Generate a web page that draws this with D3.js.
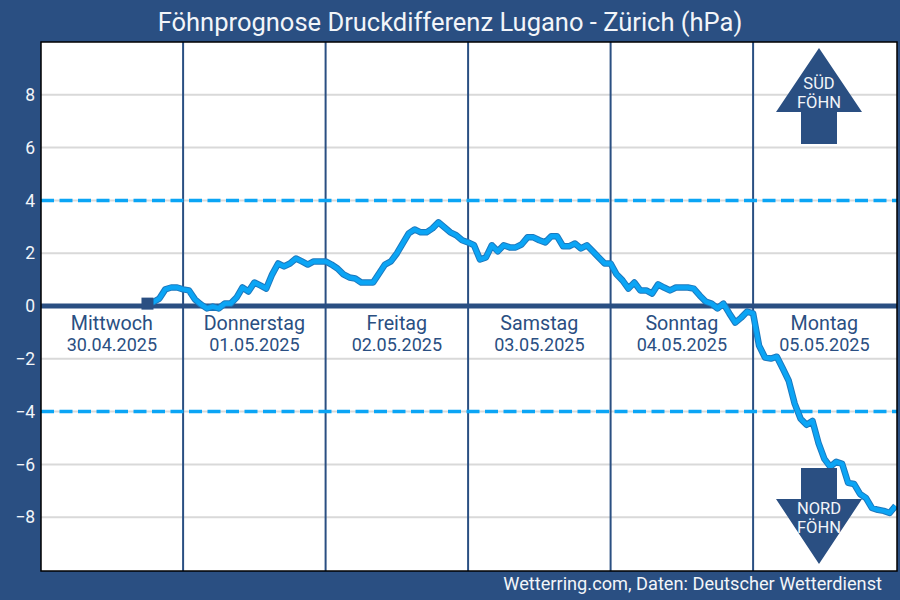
<!DOCTYPE html>
<html>
<head>
<meta charset="utf-8">
<script src="https://cdn.jsdelivr.net/npm/d3@7"></script>
<style>
  html, body { margin: 0; padding: 0; background: #2a4f82; }
  svg { display: block; font-family: Roboto, sans-serif; }
</style>
</head>
<body>
<svg id="chart" width="900" height="600"></svg>
<script>
const titleText = 'Föhnprognose Druckdifferenz Lugano - Zürich (hPa)';
const sourceText = 'Wetterring.com, Daten: Deutscher Wetterdienst';

const dayNames = ['Mittwoch', 'Donnerstag', 'Freitag', 'Samstag', 'Sonntag', 'Montag'];
const dayDates = ['30.04.2025', '01.05.2025', '02.05.2025', '03.05.2025', '04.05.2025', '05.05.2025'];
const yTicks = [-8, -6, -4, -2, 0, 2, 4, 6, 8];
const warnLevels = [-4, 4];

// hourly values, first one is 30.04. 18:00
const firstHour = 18;
const pressureDiff = [
  0.09, 0.15, 0.28, 0.63, 0.70, 0.70, 0.63, 0.59, 0.25, 0.06,
  -0.09, -0.02, -0.09, 0.09, 0.09, 0.32, 0.70, 0.55, 0.89, 0.78,
  0.66, 1.20, 1.61, 1.50, 1.61, 1.80, 1.69, 1.57, 1.69, 1.69,
  1.69, 1.57, 1.42, 1.20, 1.08, 1.04, 0.89, 0.89, 0.89, 1.23,
  1.57, 1.69, 1.99, 2.37, 2.75, 2.90, 2.79, 2.79, 2.94, 3.17,
  2.98, 2.79, 2.68, 2.49, 2.41, 2.30, 1.76, 1.84, 2.30, 2.07,
  2.30, 2.22, 2.22, 2.33, 2.60, 2.60, 2.49, 2.41, 2.64, 2.64,
  2.26, 2.26, 2.37, 2.18, 2.30, 2.07, 1.84, 1.61, 1.61, 1.20,
  0.97, 0.66, 0.89, 0.59, 0.59, 0.47, 0.82, 0.70, 0.59, 0.70,
  0.70, 0.70, 0.66, 0.40, 0.17, 0.09, -0.09, 0.09, -0.28, -0.63,
  -0.44, -0.21, -0.28, -1.50, -1.95, -1.99, -1.92, -2.37, -2.83, -3.70,
  -4.27, -4.50, -4.35, -5.18, -5.79, -6.09, -5.90, -5.98, -6.70, -6.74,
  -7.12, -7.27, -7.65, -7.72, -7.76, -7.84, -7.57,
];

const NAVY = '#2a4f82';
const BLUE = '#0ba5f5';
const BLUE_EDGE = '#1c78bd';

const svg = d3.select('#chart');

const plot = { left: 41, right: 897, top: 42, bottom: 571 };

const x = d3.scaleLinear().domain([0, 144]).range([40.6, 895.6]);
const y = d3.scaleLinear().domain([-10, 10]).range([570, 42]);

svg.append('rect')
  .attr('width', 900)
  .attr('height', 600)
  .attr('fill', NAVY);

svg.append('rect')
  .attr('x', plot.left)
  .attr('y', plot.top)
  .attr('width', plot.right - plot.left)
  .attr('height', plot.bottom - plot.top)
  .attr('fill', '#fff');

svg.append('clipPath')
  .attr('id', 'plot-clip')
  .append('rect')
  .attr('x', plot.left)
  .attr('y', plot.top)
  .attr('width', plot.right - plot.left)
  .attr('height', plot.bottom - plot.top);

// Grid and y labels
const yAxis = svg.append('g')
  .attr('transform', `translate(${plot.left},0)`)
  .call(d3.axisLeft(y).tickValues(yTicks).tickSize(0).tickPadding(6));

yAxis.select('.domain').remove();
yAxis.selectAll('text')
  .attr('fill', '#f2f5f9')
  .style('font-family', 'Roboto, sans-serif')
  .style('font-size', '17.5px');

svg.append('g')
  .selectAll('line')
  .data(yTicks)
  .join('line')
  .attr('x1', plot.left)
  .attr('x2', plot.right)
  .attr('y1', (d) => y(d))
  .attr('y2', (d) => y(d))
  .attr('stroke', '#d9d9d9')
  .attr('stroke-width', 2);

// Day separators
svg.append('g')
  .selectAll('line')
  .data(d3.range(1, dayNames.length))
  .join('line')
  .attr('x1', (d) => x(d * 24))
  .attr('x2', (d) => x(d * 24))
  .attr('y1', plot.top)
  .attr('y2', plot.bottom)
  .attr('stroke', NAVY)
  .attr('stroke-width', 2);

svg.append('g')
  .selectAll('line')
  .data(warnLevels)
  .join('line')
  .attr('x1', plot.left)
  .attr('x2', plot.right)
  .attr('y1', (d) => y(d))
  .attr('y2', (d) => y(d))
  .attr('stroke', BLUE)
  .attr('stroke-width', 3.5)
  .attr('stroke-dasharray', '13 5.5');

svg.append('line')
  .attr('x1', plot.left)
  .attr('x2', plot.right)
  .attr('y1', y(0))
  .attr('y2', y(0))
  .attr('stroke', NAVY)
  .attr('stroke-width', 5);

// Day labels
const dayLabels = svg.append('g')
  .attr('fill', NAVY)
  .attr('text-anchor', 'middle');

dayLabels.selectAll('text.name')
  .data(dayNames)
  .join('text')
  .attr('class', 'name')
  .attr('x', (d, i) => x(i * 24 + 12))
  .attr('y', 330)
  .style('font-size', '19.7px')
  .text((d) => d);

dayLabels.selectAll('text.date')
  .data(dayDates)
  .join('text')
  .attr('class', 'date')
  .attr('x', (d, i) => x(i * 24 + 12))
  .attr('y', 351)
  .style('font-size', '18px')
  .text((d) => d);

// Forecast line, darker edge below the bright core
const line = d3.line()
  .x((d, i) => x(firstHour + i))
  .y((d) => y(d));

[[6.5, BLUE_EDGE], [4.5, BLUE]].forEach(([width, color]) => {
  svg.append('path')
    .datum(pressureDiff)
    .attr('clip-path', 'url(#plot-clip)')
    .attr('d', line)
    .attr('fill', 'none')
    .attr('stroke', color)
    .attr('stroke-width', width)
    .attr('stroke-linejoin', 'round');
});

svg.append('rect')
  .attr('x', x(firstHour) - 6)
  .attr('y', y(pressureDiff[0]) - 6)
  .attr('width', 12)
  .attr('height', 12)
  .attr('fill', NAVY);

// Wind direction arrows
const arrows = [
  { path: 'M819 48L862 112H837V144H801V112H776Z', labels: ['SÜD', 'FÖHN'], labelY: [88.5, 108] },
  { path: 'M819 564L862 499H837V468H801V499H776Z', labels: ['NORD', 'FÖHN'], labelY: [514, 533] },
];

arrows.forEach((arrow) => {
  svg.append('path').attr('d', arrow.path).attr('fill', NAVY);
  svg.append('g')
    .attr('fill', '#f2f5f9')
    .attr('text-anchor', 'middle')
    .style('font-size', '16.5px')
    .selectAll('text')
    .data(arrow.labels)
    .join('text')
    .attr('x', 819)
    .attr('y', (d, i) => arrow.labelY[i])
    .text((d) => d);
});

svg.append('rect')
  .attr('x', plot.left)
  .attr('y', plot.top)
  .attr('width', plot.right - plot.left)
  .attr('height', plot.bottom - plot.top)
  .attr('fill', 'none')
  .attr('stroke', '#000')
  .attr('stroke-width', 1.5);

svg.append('text')
  .attr('x', 450)
  .attr('y', 31)
  .attr('text-anchor', 'middle')
  .attr('fill', '#f2f5f9')
  .style('font-size', '25.5px')
  .text(titleText);

svg.append('text')
  .attr('x', 882)
  .attr('y', 590)
  .attr('text-anchor', 'end')
  .attr('fill', '#f2f5f9')
  .style('font-size', '18.2px')
  .text(sourceText);
</script>
</body>
</html>
